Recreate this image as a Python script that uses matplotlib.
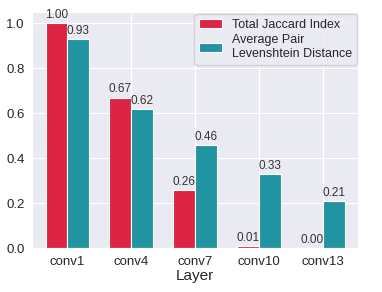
import numpy as np
import matplotlib
matplotlib.use('Agg')
import matplotlib.pyplot as plt
import seaborn as sns

layers = ['conv1', 'conv4', 'conv7', 'conv10', 'conv13']
jaccard = [1.00, 0.67, 0.26, 0.01, 0.00]
levenshtein = [0.93, 0.62, 0.46, 0.33, 0.21]

sns.set_style('darkgrid')
plt.rcParams['font.family'] = ['Liberation Sans', 'DejaVu Sans']

fig, ax = plt.subplots(figsize=(3.82, 2.92), dpi=100)
fig.subplots_adjust(left=0.084, right=0.937, top=0.958, bottom=0.15)

x = np.arange(len(layers))
w = 0.34
b1 = ax.bar(x - w/2, jaccard, w, color='#dc2544', edgecolor='white', linewidth=0.8,
            label='Total Jaccard Index')
b2 = ax.bar(x + w/2, levenshtein, w, color='#2094a0', edgecolor='white', linewidth=0.8,
            label='Average Pair\nLevenshtein Distance')

for bars, vals in ((b1, jaccard), (b2, levenshtein)):
  for r, v in zip(bars, vals):
    ax.text(r.get_x() + r.get_width()/2, v + 0.01, '%.2f' % v,
            ha='center', va='bottom', fontsize=8.5, color='#333333')

ax.set_xlim(-0.55, 4.55)
ax.set_ylim(0, 1.05)
ax.set_xticks(x)
ax.set_xticklabels(layers)
ax.set_yticks([0, 0.2, 0.4, 0.6, 0.8, 1.0])
ax.tick_params(labelsize=9.5, pad=2)
ax.set_xlabel('Layer', fontsize=11, labelpad=1)
ax.legend(loc='upper right', fontsize=9, borderaxespad=0.1, handlelength=1.8,
          labelspacing=0.3)

plt.savefig('out.png', dpi=100)
